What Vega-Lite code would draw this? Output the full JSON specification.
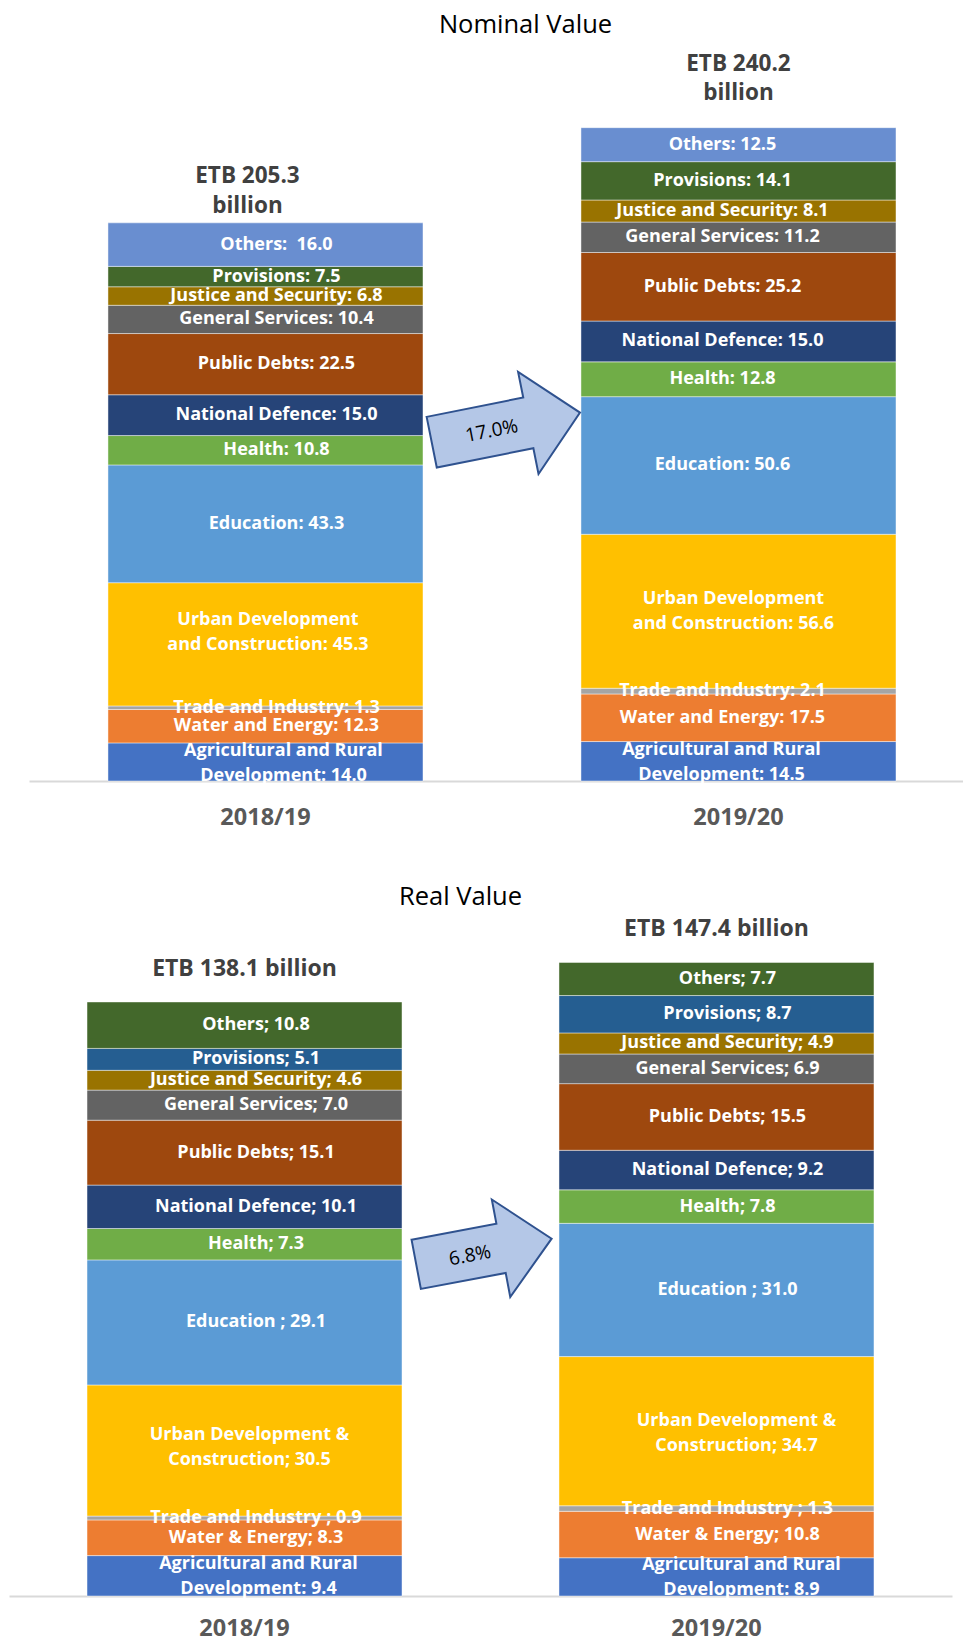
{
  "$schema": "https://vega.github.io/schema/vega-lite/v6.json",
  "padding": {"left": 0, "top": 12, "right": 0, "bottom": 0},
  "spacing": 55,
  "config": {"view": {"stroke": null}, "font": "Open Sans", "text": {"font": "Open Sans", "fontWeight": "bold", "fontSize": 18, "color": "#ffffff", "lineBreak": "\n", "lineHeight": 25, "baseline": "middle", "align": "center"}},
  "resolve": {"scale": {"x": "independent", "y": "independent", "color": "independent"}},
  "datasets": {
    "nominal": [
      {"year": "2018/19", "k": 1, "cat": "Agricultural and Rural Development", "value": 14.0, "label": "Agricultural and Rural\nDevelopment: 14.0"},
      {"year": "2018/19", "k": 2, "cat": "Water and Energy", "value": 12.3, "label": "Water and Energy: 12.3"},
      {"year": "2018/19", "k": 3, "cat": "Trade and Industry", "value": 1.3, "label": "Trade and Industry: 1.3"},
      {"year": "2018/19", "k": 4, "cat": "Urban Development and Construction", "value": 45.3, "label": "Urban Development\nand Construction: 45.3"},
      {"year": "2018/19", "k": 5, "cat": "Education", "value": 43.3, "label": "Education: 43.3"},
      {"year": "2018/19", "k": 6, "cat": "Health", "value": 10.8, "label": "Health: 10.8"},
      {"year": "2018/19", "k": 7, "cat": "National Defence", "value": 15.0, "label": "National Defence: 15.0"},
      {"year": "2018/19", "k": 8, "cat": "Public Debts", "value": 22.5, "label": "Public Debts: 22.5"},
      {"year": "2018/19", "k": 9, "cat": "General Services", "value": 10.4, "label": "General Services: 10.4"},
      {"year": "2018/19", "k": 10, "cat": "Justice and Security", "value": 6.8, "label": "Justice and Security: 6.8"},
      {"year": "2018/19", "k": 11, "cat": "Provisions", "value": 7.5, "label": "Provisions: 7.5"},
      {"year": "2018/19", "k": 12, "cat": "Others", "value": 16.0, "label": "Others: \u00a016.0"},
      {"year": "2019/20", "k": 1, "cat": "Agricultural and Rural Development", "value": 14.5, "label": "Agricultural and Rural\nDevelopment: 14.5"},
      {"year": "2019/20", "k": 2, "cat": "Water and Energy", "value": 17.5, "label": "Water and Energy: 17.5"},
      {"year": "2019/20", "k": 3, "cat": "Trade and Industry", "value": 2.1, "label": "Trade and Industry: 2.1"},
      {"year": "2019/20", "k": 4, "cat": "Urban Development and Construction", "value": 56.6, "label": "Urban Development\nand Construction: 56.6"},
      {"year": "2019/20", "k": 5, "cat": "Education", "value": 50.6, "label": "Education: 50.6"},
      {"year": "2019/20", "k": 6, "cat": "Health", "value": 12.8, "label": "Health: 12.8"},
      {"year": "2019/20", "k": 7, "cat": "National Defence", "value": 15.0, "label": "National Defence: 15.0"},
      {"year": "2019/20", "k": 8, "cat": "Public Debts", "value": 25.2, "label": "Public Debts: 25.2"},
      {"year": "2019/20", "k": 9, "cat": "General Services", "value": 11.2, "label": "General Services: 11.2"},
      {"year": "2019/20", "k": 10, "cat": "Justice and Security", "value": 8.1, "label": "Justice and Security: 8.1"},
      {"year": "2019/20", "k": 11, "cat": "Provisions", "value": 14.1, "label": "Provisions: 14.1"},
      {"year": "2019/20", "k": 12, "cat": "Others", "value": 12.5, "label": "Others: 12.5"}
    ],
    "real": [
      {"year": "2018/19", "k": 1, "cat": "Agricultural and Rural Development", "value": 9.4, "label": "Agricultural and Rural\nDevelopment: 9.4"},
      {"year": "2018/19", "k": 2, "cat": "Water and Energy", "value": 8.3, "label": "Water & Energy; 8.3"},
      {"year": "2018/19", "k": 3, "cat": "Trade and Industry", "value": 0.9, "label": "Trade and Industry ; 0.9"},
      {"year": "2018/19", "k": 4, "cat": "Urban Development and Construction", "value": 30.5, "label": "Urban Development &\nConstruction; 30.5"},
      {"year": "2018/19", "k": 5, "cat": "Education", "value": 29.1, "label": "Education ; 29.1"},
      {"year": "2018/19", "k": 6, "cat": "Health", "value": 7.3, "label": "Health; 7.3"},
      {"year": "2018/19", "k": 7, "cat": "National Defence", "value": 10.1, "label": "National Defence; 10.1"},
      {"year": "2018/19", "k": 8, "cat": "Public Debts", "value": 15.1, "label": "Public Debts; 15.1"},
      {"year": "2018/19", "k": 9, "cat": "General Services", "value": 7.0, "label": "General Services; 7.0"},
      {"year": "2018/19", "k": 10, "cat": "Justice and Security", "value": 4.6, "label": "Justice and Security; 4.6"},
      {"year": "2018/19", "k": 11, "cat": "Provisions", "value": 5.1, "label": "Provisions; 5.1"},
      {"year": "2018/19", "k": 12, "cat": "Others", "value": 10.8, "label": "Others; 10.8"},
      {"year": "2019/20", "k": 1, "cat": "Agricultural and Rural Development", "value": 8.9, "label": "Agricultural and Rural\nDevelopment: 8.9"},
      {"year": "2019/20", "k": 2, "cat": "Water and Energy", "value": 10.8, "label": "Water & Energy; 10.8"},
      {"year": "2019/20", "k": 3, "cat": "Trade and Industry", "value": 1.3, "label": "Trade and Industry ; 1.3"},
      {"year": "2019/20", "k": 4, "cat": "Urban Development and Construction", "value": 34.7, "label": "Urban Development &\nConstruction; 34.7"},
      {"year": "2019/20", "k": 5, "cat": "Education", "value": 31.0, "label": "Education ; 31.0"},
      {"year": "2019/20", "k": 6, "cat": "Health", "value": 7.8, "label": "Health; 7.8"},
      {"year": "2019/20", "k": 7, "cat": "National Defence", "value": 9.2, "label": "National Defence; 9.2"},
      {"year": "2019/20", "k": 8, "cat": "Public Debts", "value": 15.5, "label": "Public Debts; 15.5"},
      {"year": "2019/20", "k": 9, "cat": "General Services", "value": 6.9, "label": "General Services; 6.9"},
      {"year": "2019/20", "k": 10, "cat": "Justice and Security", "value": 4.9, "label": "Justice and Security; 4.9"},
      {"year": "2019/20", "k": 11, "cat": "Provisions", "value": 8.7, "label": "Provisions; 8.7"},
      {"year": "2019/20", "k": 12, "cat": "Others", "value": 7.7, "label": "Others; 7.7"}
    ],
    "nominalTotals": [
      {"year": "2018/19", "total": 205.3, "label": "ETB 205.3\nbillion"},
      {"year": "2019/20", "total": 240.2, "label": "ETB 240.2\nbillion"}
    ],
    "realTotals": [
      {"year": "2018/19", "total": 138.1, "label": "ETB 138.1 billion"},
      {"year": "2019/20", "total": 147.4, "label": "ETB 147.4 billion"}
    ],
    "nominalGrowth": [{"year": "2018/19", "pct": "17.0%"}],
    "realGrowth": [{"year": "2018/19", "pct": "6.8%"}]
  },
  "vconcat": [
    {
      "title": {"text": "Nominal Value", "font": "Open Sans", "fontSize": 25.5, "fontWeight": "normal", "color": "#000000", "anchor": "middle", "dx": 44, "offset": 3},
      "width": 963,
      "height": 740,
      "layer": [
        {
          "data": {"name": "nominal"},
          "mark": {"type": "bar", "stroke": "#ffffff", "strokeWidth": 0.75, "strokeOpacity": 0.6},
          "encoding": {
            "x": {"field": "year", "type": "nominal", "scale": {"type": "band", "range": [29, 963], "paddingInner": 0.334, "paddingOuter": 0.1543, "align": 0.541},
                  "axis": {"title": null, "labelAngle": 0, "ticks": false, "domainColor": "#D9D9D9", "domainWidth": 2, "labelFont": "Open Sans", "labelFontWeight": "bold", "labelFontSize": 23.5, "labelColor": "#595959", "labelPadding": 24}},
            "y": {"field": "value", "type": "quantitative", "stack": "zero", "scale": {"domain": [0, 272.06], "nice": false}, "axis": null},
            "color": {"field": "cat", "type": "nominal", "legend": null,
                      "scale": {"domain": ["Agricultural and Rural Development", "Water and Energy", "Trade and Industry", "Urban Development and Construction", "Education", "Health", "National Defence", "Public Debts", "General Services", "Justice and Security", "Provisions", "Others"],
                                "range": ["#4472C4", "#ED7D31", "#A5A5A5", "#FFC000", "#5B9BD5", "#70AD47", "#264478", "#9E480E", "#636363", "#997300", "#43682B", "#698ED0"]}},
            "order": {"field": "k", "type": "quantitative"}
          }
        },
        {
          "data": {"name": "nominal"},
          "transform": [{"filter": "datum.year == '2018/19'"}],
          "mark": {"type": "text", "dx": 11},
          "encoding": {
            "x": {"field": "year", "type": "nominal"},
            "y": {"field": "value", "type": "quantitative", "stack": "zero", "bandPosition": 0.5, "scale": {"domain": [0, 272.06], "nice": false}},
            "detail": {"field": "cat"}, "order": {"field": "k", "type": "quantitative"},
            "text": {"condition": {"test": "datum.k != 1 && datum.k != 4", "field": "label"}, "value": ""}
          }
        },
        {
          "data": {"name": "nominal"},
          "transform": [{"filter": "datum.year == '2018/19'"}],
          "mark": {"type": "text", "dx": 18, "dy": -11},
          "encoding": {
            "x": {"field": "year", "type": "nominal"},
            "y": {"field": "value", "type": "quantitative", "stack": "zero", "bandPosition": 0.5, "scale": {"domain": [0, 272.06], "nice": false}},
            "detail": {"field": "cat"}, "order": {"field": "k", "type": "quantitative"},
            "text": {"condition": {"test": "datum.k == 1", "field": "label"}, "value": ""}
          }
        },
        {
          "data": {"name": "nominal"},
          "transform": [{"filter": "datum.year == '2018/19'"}],
          "mark": {"type": "text", "dx": 2.5, "dy": -24},
          "encoding": {
            "x": {"field": "year", "type": "nominal"},
            "y": {"field": "value", "type": "quantitative", "stack": "zero", "bandPosition": 0.5, "scale": {"domain": [0, 272.06], "nice": false}},
            "detail": {"field": "cat"}, "order": {"field": "k", "type": "quantitative"},
            "text": {"condition": {"test": "datum.k == 4", "field": "label"}, "value": ""}
          }
        },
        {
          "data": {"name": "nominal"},
          "transform": [{"filter": "datum.year == '2019/20'"}],
          "mark": {"type": "text", "dx": -16},
          "encoding": {
            "x": {"field": "year", "type": "nominal"},
            "y": {"field": "value", "type": "quantitative", "stack": "zero", "bandPosition": 0.5, "scale": {"domain": [0, 272.06], "nice": false}},
            "detail": {"field": "cat"}, "order": {"field": "k", "type": "quantitative"},
            "text": {"condition": {"test": "datum.k != 1 && datum.k != 4", "field": "label"}, "value": ""}
          }
        },
        {
          "data": {"name": "nominal"},
          "transform": [{"filter": "datum.year == '2019/20'"}],
          "mark": {"type": "text", "dx": -17, "dy": -11.5},
          "encoding": {
            "x": {"field": "year", "type": "nominal"},
            "y": {"field": "value", "type": "quantitative", "stack": "zero", "bandPosition": 0.5, "scale": {"domain": [0, 272.06], "nice": false}},
            "detail": {"field": "cat"}, "order": {"field": "k", "type": "quantitative"},
            "text": {"condition": {"test": "datum.k == 1", "field": "label"}, "value": ""}
          }
        },
        {
          "data": {"name": "nominal"},
          "transform": [{"filter": "datum.year == '2019/20'"}],
          "mark": {"type": "text", "dx": -5, "dy": -12},
          "encoding": {
            "x": {"field": "year", "type": "nominal"},
            "y": {"field": "value", "type": "quantitative", "stack": "zero", "bandPosition": 0.5, "scale": {"domain": [0, 272.06], "nice": false}},
            "detail": {"field": "cat"}, "order": {"field": "k", "type": "quantitative"},
            "text": {"condition": {"test": "datum.k == 4", "field": "label"}, "value": ""}
          }
        },
        {
          "data": {"name": "nominalTotals"},
          "transform": [{"filter": "datum.year == '2018/19'"}],
          "mark": {"type": "text", "fontSize": 22.5, "color": "#404040", "lineHeight": 30, "dy": -47, "dx": -18},
          "encoding": {
            "x": {"field": "year", "type": "nominal"},
            "y": {"field": "total", "type": "quantitative", "scale": {"domain": [0, 272.06], "nice": false}},
            "text": {"field": "label"}
          }
        },
        {
          "data": {"name": "nominalTotals"},
          "transform": [{"filter": "datum.year == '2019/20'"}],
          "mark": {"type": "text", "fontSize": 22.5, "color": "#404040", "lineHeight": 29, "dy": -64},
          "encoding": {
            "x": {"field": "year", "type": "nominal"},
            "y": {"field": "total", "type": "quantitative", "scale": {"domain": [0, 272.06], "nice": false}},
            "text": {"field": "label"}
          }
        },
        {
          "data": {"name": "nominalGrowth"},
          "mark": {"type": "point", "shape": "M-1,-0.342L0.303,-0.342L0.303,-0.689L1,0L0.303,0.689L0.303,0.342L-1,0.342Z", "size": 22861, "angle": 348.7, "filled": true, "fill": "#B4C7E7", "stroke": "#2F528F", "strokeWidth": 2, "opacity": 1},
          "encoding": {
            "x": {"field": "year", "type": "nominal", "bandPosition": 1.263},
            "y": {"datum": 130.0, "type": "quantitative", "scale": {"domain": [0, 272.06], "nice": false}}
          }
        },
        {
          "data": {"name": "nominalGrowth"},
          "mark": {"type": "text", "fontWeight": "normal", "fontSize": 19, "color": "#000000", "angle": 349},
          "encoding": {
            "x": {"field": "year", "type": "nominal", "bandPosition": 1.218},
            "y": {"datum": 128.7, "type": "quantitative", "scale": {"domain": [0, 272.06], "nice": false}},
            "text": {"field": "pct"}
          }
        }
      ]
    },
    {
      "title": {"text": "Real Value", "font": "Open Sans", "fontSize": 25.5, "fontWeight": "normal", "color": "#000000", "anchor": "middle", "dx": -21, "offset": 0},
      "width": 963,
      "height": 686,
      "layer": [
        {
          "data": {"name": "real"},
          "mark": {"type": "bar", "stroke": "#ffffff", "strokeWidth": 0.75, "strokeOpacity": 0.6},
          "encoding": {
            "x": {"field": "year", "type": "nominal", "scale": {"type": "band", "range": [9, 952], "paddingInner": 0.3326, "paddingOuter": 0.1653, "align": 0.5},
                  "axis": {"title": null, "labelAngle": 0, "ticks": false, "domainColor": "#D9D9D9", "domainWidth": 2, "labelFont": "Open Sans", "labelFontWeight": "bold", "labelFontSize": 23.5, "labelColor": "#595959", "labelPadding": 20}},
            "y": {"field": "value", "type": "quantitative", "stack": "zero", "scale": {"domain": [0, 159.6], "nice": false}, "axis": null},
            "color": {"field": "cat", "type": "nominal", "legend": null,
                      "scale": {"domain": ["Agricultural and Rural Development", "Water and Energy", "Trade and Industry", "Urban Development and Construction", "Education", "Health", "National Defence", "Public Debts", "General Services", "Justice and Security", "Provisions", "Others"],
                                "range": ["#4472C4", "#ED7D31", "#A5A5A5", "#FFC000", "#5B9BD5", "#70AD47", "#264478", "#9E480E", "#636363", "#997300", "#255E91", "#43682B"]}},
            "order": {"field": "k", "type": "quantitative"}
          }
        },
        {
          "data": {"name": "real"},
          "transform": [{"filter": "datum.year == '2018/19'"}],
          "mark": {"type": "text", "dx": 11.5},
          "encoding": {
            "x": {"field": "year", "type": "nominal"},
            "y": {"field": "value", "type": "quantitative", "stack": "zero", "bandPosition": 0.5, "scale": {"domain": [0, 159.6], "nice": false}},
            "detail": {"field": "cat"}, "order": {"field": "k", "type": "quantitative"},
            "text": {"condition": {"test": "datum.k != 1 && datum.k != 4", "field": "label"}, "value": ""}
          }
        },
        {
          "data": {"name": "real"},
          "transform": [{"filter": "datum.year == '2018/19'"}],
          "mark": {"type": "text", "dx": 14, "dy": -11.5},
          "encoding": {
            "x": {"field": "year", "type": "nominal"},
            "y": {"field": "value", "type": "quantitative", "stack": "zero", "bandPosition": 0.5, "scale": {"domain": [0, 159.6], "nice": false}},
            "detail": {"field": "cat"}, "order": {"field": "k", "type": "quantitative"},
            "text": {"condition": {"test": "datum.k == 1", "field": "label"}, "value": ""}
          }
        },
        {
          "data": {"name": "real"},
          "transform": [{"filter": "datum.year == '2018/19'"}],
          "mark": {"type": "text", "dx": 5, "dy": -15.5},
          "encoding": {
            "x": {"field": "year", "type": "nominal"},
            "y": {"field": "value", "type": "quantitative", "stack": "zero", "bandPosition": 0.5, "scale": {"domain": [0, 159.6], "nice": false}},
            "detail": {"field": "cat"}, "order": {"field": "k", "type": "quantitative"},
            "text": {"condition": {"test": "datum.k == 4", "field": "label"}, "value": ""}
          }
        },
        {
          "data": {"name": "real"},
          "transform": [{"filter": "datum.year == '2019/20'"}],
          "mark": {"type": "text", "dx": 11},
          "encoding": {
            "x": {"field": "year", "type": "nominal"},
            "y": {"field": "value", "type": "quantitative", "stack": "zero", "bandPosition": 0.5, "scale": {"domain": [0, 159.6], "nice": false}},
            "detail": {"field": "cat"}, "order": {"field": "k", "type": "quantitative"},
            "text": {"condition": {"test": "datum.k != 1 && datum.k != 4", "field": "label"}, "value": ""}
          }
        },
        {
          "data": {"name": "real"},
          "transform": [{"filter": "datum.year == '2019/20'"}],
          "mark": {"type": "text", "dx": 25, "dy": -11.5},
          "encoding": {
            "x": {"field": "year", "type": "nominal"},
            "y": {"field": "value", "type": "quantitative", "stack": "zero", "bandPosition": 0.5, "scale": {"domain": [0, 159.6], "nice": false}},
            "detail": {"field": "cat"}, "order": {"field": "k", "type": "quantitative"},
            "text": {"condition": {"test": "datum.k == 1", "field": "label"}, "value": ""}
          }
        },
        {
          "data": {"name": "real"},
          "transform": [{"filter": "datum.year == '2019/20'"}],
          "mark": {"type": "text", "dx": 20, "dy": -10},
          "encoding": {
            "x": {"field": "year", "type": "nominal"},
            "y": {"field": "value", "type": "quantitative", "stack": "zero", "bandPosition": 0.5, "scale": {"domain": [0, 159.6], "nice": false}},
            "detail": {"field": "cat"}, "order": {"field": "k", "type": "quantitative"},
            "text": {"condition": {"test": "datum.k == 4", "field": "label"}, "value": ""}
          }
        },
        {
          "data": {"name": "realTotals"},
          "mark": {"type": "text", "fontSize": 23, "color": "#404040", "dy": -33},
          "encoding": {
            "x": {"field": "year", "type": "nominal"},
            "y": {"field": "total", "type": "quantitative", "scale": {"domain": [0, 159.6], "nice": false}},
            "text": {"field": "label"}
          }
        },
        {
          "data": {"name": "realGrowth"},
          "mark": {"type": "point", "shape": "M-1,-0.364L0.253,-0.364L0.253,-0.72L1,0L0.253,0.72L0.253,0.364L-1,0.364Z", "size": 18989, "angle": 349.3, "filled": true, "fill": "#B4C7E7", "stroke": "#2F528F", "strokeWidth": 2, "opacity": 1},
          "encoding": {
            "x": {"field": "year", "type": "nominal", "bandPosition": 1.26},
            "y": {"datum": 80.15, "type": "quantitative", "scale": {"domain": [0, 159.6], "nice": false}}
          }
        },
        {
          "data": {"name": "realGrowth"},
          "mark": {"type": "text", "fontWeight": "normal", "fontSize": 19, "color": "#000000", "angle": 349},
          "encoding": {
            "x": {"field": "year", "type": "nominal", "bandPosition": 1.216},
            "y": {"datum": 79.2, "type": "quantitative", "scale": {"domain": [0, 159.6], "nice": false}},
            "text": {"field": "pct"}
          }
        }
      ]
    }
  ]
}
